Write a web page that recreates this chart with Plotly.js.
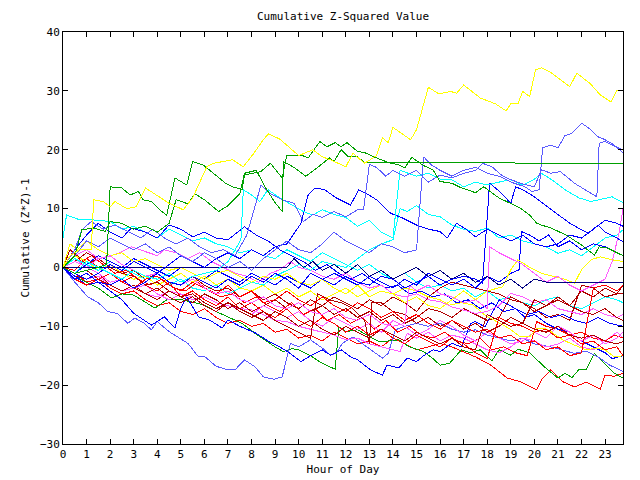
<!DOCTYPE html>
<html><head><meta charset="utf-8">
<script src="https://cdn.plot.ly/plotly-3.0.1.min.js"></script>
<style>html,body{margin:0;padding:0;background:#fff} path.js-line{shape-rendering:crispEdges}</style>
</head><body><div id="chart" style="width:640px;height:480px"></div>
<script>
const hourTicks = [0,1,2,3,4,5,6,7,8,9,10,11,12,13,14,15,16,17,18,19,20,21,22,23];
const HALF = [0,0.5,1,1.5,2,2.5,3,3.5,4,4.5,5,5.5,6,6.5,7,7.5,8,8.5,9,9.5,10,10.5,11,11.5,12,12.5,13,13.5,14,14.5,15,15.5,16,16.5,17,17.5,18,18.5,19,19.5,20,20.5,21,21.5,22,22.5,23,23.5,23.76];

const yelTopH = [0,0.3,0.7,1.2,1.3,1.7,2.0,2.2,2.7,3.1,3.5,3.85,4.5,5.1,5.5,6.1,6.4,6.8,7.2,7.65,8.1,8.5,8.72,9.2,9.5,10.0,10.6,11.0,11.4,12.0,12.3,12.8,13.3,13.55,13.8,14.0,14.75,15.0,15.5,15.95,16.45,16.7,17.0,17.45,17.7,18.35,18.8,19.0,19.3,19.5,19.8,20.05,20.3,20.7,21.5,21.8,22.35,22.8,23.25,23.5,23.76];
const yelTopV = [0,2,3,3,11.5,11.2,10.3,11.2,10,10.3,13.5,12.6,10.9,9.8,11.8,17.1,17.7,18,18.3,17.1,19.4,21.7,22.7,21.8,20.8,19.0,20,18.8,18.2,17.1,19.4,17.7,19,22,21.2,23.8,21.7,23.4,30.6,29.5,29.9,29.6,31,29.5,28.8,27.8,26.6,27.8,27.8,29.9,29.0,33.6,33.9,33.1,30.7,33.0,31.3,29.3,28.1,30.1,30];

const grn1H = [0,0.5,1.0,1.5,1.85,2.0,2.5,2.85,3.2,3.4,3.75,4.1,4.4,4.75,5.25,5.5,5.95,6.9,7.2,7.6,7.7,8.4,8.8,9.3,9.5,10.1,10.4,10.9,11.2,11.55,11.8,12.05,12.5,12.8,13.3,13.9,14.2,14.5,14.8,15.3,15.7,16.0,16.5,16.8,17.5,17.85,18.5,19.1,19.4,19.8,20.1,20.3,20.7,21.35,22.0,22.55,22.75,23.1,23.7,23.76];
const grn1V = [0,-1,-0.5,0,0.5,13.7,13.5,12.3,12.9,11.5,11.2,9.8,8.9,15.2,14.0,18.0,17.4,14.3,13.7,13.2,15.7,16.3,17.7,15.2,19.1,19.1,18.6,21.4,20.5,21.2,20.5,21.2,19.7,19.5,18.6,17.7,17.5,16.9,18.7,17.3,16.6,14.6,14.3,13.7,12.7,13.7,11.8,10.6,10.1,8.9,7.5,7.2,6.7,5.5,3.8,2.1,3.5,3.3,2.1,2.0];

const grn2H = [0,0.5,0.8,1.3,1.8,2.0,2.5,3.0,3.5,4.0,4.5,4.8,5.3,5.6,6.0,6.6,7.0,7.5,7.7,8.2,8.6,9.0,9.3,9.35,9.8,10.3,10.78,11.3,11.5,11.8,12.1,12.5,12.8,23.76];
const grn2V = [0,2,6.4,6.7,6.1,7.8,7.5,6.5,7.0,6.0,7.5,11.5,10.8,12.5,11.5,9.5,10.5,12.5,16,16.5,13.5,11,9.5,18,17,15.5,16.9,18.6,18.0,20,18.8,18.8,17.8,17.7];

const lb1H = [0,0.5,0.8,1.2,1.7,2.2,2.8,3.3,3.8,4.3,4.8,5.3,5.8,6.3,6.8,7.3,7.8,8.4,8.8,9.3,9.8,10.2,10.6,11.0,11.5,12.0,12.5,12.75,13.0,13.3,13.7,14.0,14.5,15.0,15.5,16.0,16.5,17.0,17.5,17.8,18.2,18.6,19.0,19.5,20.0,20.3,20.7,21.1,21.7,22.25,22.65,22.75,23.0,23.3,23.76];
const lb1V = [0,3,6.4,7.8,6.5,7.2,6,5,6.5,5,4,5,3.5,2.5,3,2,5.5,14,12.5,11.5,10.9,7.8,9,8.5,9.5,8.6,9.8,9.8,17.5,17,15.5,16.5,15.5,16.5,14.5,15.7,15.2,16,16.5,17.7,17.1,15.7,14.9,14.2,13.7,16.6,16,16.3,14.3,12.9,12,21.1,21.4,20.8,20.0];

const lb3H = [0,0.5,1.0,1.5,2.0,2.5,3.0,3.5,4.0,4.5,5.0,5.5,6.0,6.5,7.0,7.5,8.0,8.5,9.0,9.5,10.0,10.5,11.0,11.5,12.0,12.5,13.0,13.5,14.0,14.5,15.0,15.3,15.6,16.0,16.5,17.0,17.5,18.0,18.5,19.0,19.6,19.9,20.2,20.35,20.7,21.0,21.3,21.6,22.0,22.3,22.7,23.0,23.3,23.76];
const lb3V = [0,2,4.5,3.5,5,4,3,4,2.5,3.5,2,1,2.5,1.5,0,1,-0.5,1.5,3,4.5,3,2.5,4,6,4.5,3.5,2.5,4,3.5,2.5,3,18.8,17.5,16.5,15.5,16.5,17,16,15.5,14.5,13.7,12.9,13.2,20.3,20.8,20.3,22.4,22.8,24.5,23.7,22.2,21.7,21.0,19.5];

const cyn1H = [0,0.15,0.7,1.2,2,2.5,3,3.5,4,4.5,5,5.5,6,6.5,7,7.5,8,8.5,9,9.5,10,10.5,11,11.5,12,12.5,13,13.5,14,14.5,15,15.5,16,16.5,17,17.5,18,18.5,19,19.5,20,20.5,21,21.5,22,22.5,23,23.5,23.76];
const cyn1V = [5,8.9,8.1,8.1,7.8,6.5,7,6,5,6.5,5.5,4.5,5,4,3.5,2.5,3,2,1.5,3,2,1,2.5,1.5,0.5,-0.5,0.5,-1,-2,-1,-2.5,-3.5,-3,-4,-3.5,-5,-4,-5.5,-5,-6,-6.5,-5.5,-5,-6.5,-7,-6,-5,-5.5,-6];

const cyn2H = [0,0.5,1,1.5,2,2.5,3,3.5,4,4.5,5,5.5,6,6.5,7,7.55,7.65,8.0,8.35,8.7,9.2,9.7,10.2,10.6,11.0,11.5,12.0,12.5,13.0,13.5,14.0,14.3,14.7,15.0,15.5,16.0,16.5,17.0,17.5,18.0,18.5,19.0,19.5,20.0,20.3,20.7,21.3,21.9,22.4,23.0,23.3,23.76];
const cyn2V = [0,-1,1,0,-1,-2,-0.5,-1.5,-2,-1,-2.5,-1.5,-1,-0.5,1,4.7,13.2,12.3,11.2,13.2,11.8,10.6,9.5,8.9,9.8,9,8.5,7,8,6,5,16.5,16,15.5,16,15,14.9,13.7,14.5,14,14.5,14.9,14,15,16,15,13.2,11.8,11.2,11.8,12,11];

const cyn3H = [0,0.5,1,1.5,2,2.5,3,3.5,4,4.5,5,5.5,6,6.5,7,7.5,8,8.5,9,9.5,10,10.5,11,11.5,12,12.5,13,13.5,14,14.3,14.6,15,15.5,16,16.5,17,17.5,18,18.5,19,19.5,20,20.5,21,21.5,22,22.5,23,23.5,23.76];
const cyn3V = [0,1.5,0.5,-0.5,1,0,-1,-2,-1.5,-3,-2,-3.5,-4,-3,-4.5,-3.5,-2.5,-3,-1.5,-0.5,0.5,-0.5,1,0.5,0,1.5,3,4,4.7,10,9.5,10.5,9,8.6,7.2,6.5,6.1,6.7,5,5.5,4.5,4,3.5,2.4,3,2,3.5,5,5.5,6.4];

const mag1H = [0,0.5,1,1.5,2,2.5,3,3.5,4,4.5,5,5.5,6,6.5,7,7.5,8,8.5,9,9.5,10,10.5,11,11.5,12,12.5,13,13.5,14,14.5,14.7,15,15.5,16,16.5,17,17.5,18,18.1,18.5,19,19.5,20,20.5,21,21.5,22,22.5,23,23.3,23.6,23.76];
const mag1V = [0,2,3,1.5,2,0.5,-0.5,-1.5,-1,-2.5,-3,-2,-3.5,-4.5,-4,-5.5,-6,-5,-6.5,-7,-6,-7.5,-8,-7,-8.5,-9,-8,-9.5,-10,-9.5,-3,-4,-3,-4.5,-5,-6,-5.5,-7,3.5,2.5,1.5,0.5,-1,-2.5,-1.5,-3,-4,-3,-2,1,6,10];

const mag2H = [0,0.5,1,1.5,2,2.5,3,3.5,4,4.5,5,5.5,6,6.5,7,7.5,8,8.5,9,9.5,10,10.5,11,11.5,12,12.5,13,13.5,14,14.3,14.6,15,15.5,16,16.5,17,17.5,18,18.5,19,19.5,20,20.5,21,21.5,22,22.5,23,23.5,23.76];
const mag2V = [0,-1,-2,-1.5,-3,-4,-3.5,-4.5,-5,-4,-4.5,-5.5,-5,-6,-6.5,-7,-7.2,-8,-9,-9.2,-10,-10.5,-10.9,-11.5,-12.3,-12,-13,-13.5,-14,-14.3,-11.2,-12,-11,-12.5,-11.5,-12,-13,-14,-14.5,-13.5,-12,-12.5,-13.5,-13,-12,-13.5,-14,-12.5,-11,-12];

const mag3H = [0,0.5,1,1.5,1.9,2.4,2.9,3.5,4.0,4.3,4.8,5.3,5.8,6.3,6.8,7.3,7.8,8.3,8.8,9.2,9.65,10,10.5,11,11.5,12,12.5,13,13.5,14,14.5,15,15.5,16,16.5,17,17.5,18,18.5,19,19.5,20,20.5,21,21.5,22,22.5,23,23.5,23.76];
const mag3V = [0,1,0,1.5,1.8,2.5,3.5,2.7,2,3,2.5,1.5,2.5,1,0,-1,-1.5,-2.5,-1,-0.4,1,0,-0.5,-1.5,-2,-1,-2.5,-3.5,-3,-4.5,-5,-4.5,-5.5,-5.8,-6.7,-7.3,-7.8,-7.5,-6.5,-4.4,-5,-6,-5.5,-7,-7.5,-8,-7,-8,-8.5,-8];

const mag4V = [0,1.5,0,-1,-2.5,-2,-3.5,-3,-4.5,-5.5,-4.5,-5,-6.5,-7.5,-6,-7,-8,-6.5,-7.5,-8.5,-7.5,-9,-10,-8.5,-9.5,-10.5,-9.5,-11,-9,-10,-11.5,-10.5,-9,-10,-11.5,-12.5,-11,-12,-13,-12.5,-11,-12,-10,-11,-12.5,-11.5,-13,-12,-11];

const navH = [0,0.3,9.5,9.8,10.2,10.6,11.0,11.5,12.0,12.5,13.0,13.5,14.0,14.5,15.0,15.5,16.0,16.5,17.0,17.5,18.0,18.5,19.0,19.5,20.0,20.6,23.76];
const navV = [0,0,0,1.5,0,1,-0.5,0.5,-1,0.5,-1.5,-0.5,-2,-1,0,-1.5,-0.5,-2,-1,-2.5,-1.5,-3,-2,-3.5,-2,-2.6,-2.6];

const blu1H = [0,0.5,1,1.5,2,2.5,3,3.5,4,4.5,5,5.5,6,6.5,7,7.5,8,8.5,9,9.5,10.1,10.4,10.7,11.1,11.6,12.2,12.55,12.9,13.3,13.9,14.4,15.0,15.5,16.0,16.3,16.7,17.1,17.5,18,18.5,19,19.5,20,20.5,21,21.5,22,22.5,23,23.5,23.76];
const blu1V = [0,-1,-2,-1,0.5,-0.5,1,0,-1,0.5,2,1,0,1.5,2.5,1.5,3,2,3.5,4,7.5,12.3,13.5,13.2,11.8,10.6,13.2,12.5,11.5,9.2,8.4,7.2,6.5,6.1,5,7.5,6.5,5.2,6.5,5.5,4.5,5.5,4,3.5,4,5.5,5,6.5,8,7.5,7];

const blu2H = [0,0.5,1,1.5,2,2.5,3,3.5,4,4.5,5,5.5,6,6.5,7,7.5,8,8.5,9,9.5,10,10.5,11,11.5,12,12.5,13,13.5,14,14.5,15,15.5,16,16.5,17,17.5,17.8,18.1,18.5,19.0,19.2,19.5,20.0,20.5,21.0,21.5,22.0,22.3,22.7,23.0,23.5,23.76];
const blu2V = [0,-2,-1,-2.5,-3,-2,-3.5,-2.5,-1,-2.5,-3,-1.5,-2.5,-3.5,-2,-3,-1.5,-2.5,-1,-2,-3.5,-1,-2,-3,-1.5,-2.5,-3,-1.5,-2,-3.5,-2.5,-1.5,-3,-2,-1.5,-2,-2.7,14.3,13,10.9,13.7,13.2,12,10.5,8.9,7.5,6.4,5.8,7.2,6,5,4.4];

const blu3H = [0,0.5,1,1.5,2,2.5,2.9,3.5,4,4.5,5,5.5,6,6.5,7,7.7,8.2,8.7,9.2,9.7,10.2,10.7,11.2,11.7,12.2,12.7,13.2,13.7,14.2,14.7,15.2,15.7,16.2,16.7,17.2,17.7,18.2,18.7,19.2,19.7,20.2,20.7,21.2,21.7,22.2,22.7,23.2,23.76];
const blu3V = [0,3,5.5,7.5,6,5,6.7,6,5,7.2,6.5,5.2,6,5,4.7,6.9,5.5,4.5,3,2,1,-0.5,0.5,-1,-2,-1,-2.5,-3.5,-3,-4.5,-4,-5,-4.5,-6,-5.5,-7,-6,-7.5,-7,-8,-7.5,-8.5,-8,-9,-9.5,-8.5,-9.5,-10];

const blu4H = [0,0.5,1,1.5,2,2.5,3,3.75,4.3,4.75,5.0,5.25,5.75,6.25,6.75,7.0,7.5,8.2,8.7,9.2,9.6,10.1,10.5,11.0,11.35,11.8,12.2,12.5,13.05,13.55,13.75,14.25,14.6,15.0,15.3,15.7,16.0,16.5,16.9,17.3,17.5,17.9,18.5,18.8,19.2,19.6,20.0,20.5,21.0,21.5,22.0,22.5,23.0,23.3,23.76];
const blu4V = [0,-1.5,-3,-2.5,-4,-5.5,-7.8,-9.8,-8.4,-10.3,-6.9,-5,-8.4,-9,-10.3,-8.9,-10,-11.2,-12.5,-13.5,-14.5,-16,-15,-14,-14.9,-14,-15.2,-15.7,-17.4,-18.3,-16.6,-17.1,-15.4,-16,-15,-14,-14.3,-12.9,-13.5,-9.5,-9.2,-10.1,-5.5,-6.1,-7,-8.5,-8,-9.5,-10.5,-11,-12.5,-13.5,-14.5,-15.5,-15];

const blu6H = [0,0.5,1,1.5,2,2.5,3,3.5,4,4.5,5,5.5,6,6.5,7,7.5,8,8.5,9,9.5,10,10.5,11,11.5,12,12.5,13,13.5,14,14.5,15,15.5,16,16.5,17,17.5,18,18.5,19,19.35,19.45,19.8,20.2,20.6,21.0,21.5,22.0,22.5,23.0,23.5,23.76];
const blu6V = [0,-1,0.5,2,1,0,1.5,0.5,-0.5,-1.5,0,-1,-2,-0.5,-1.5,-2.5,-1,-2,-3,-1.5,-2.5,-3.5,-2,-1,-2,-3,-1.5,-2.5,-3.5,-2,-3,-1,-2,-3,-2,-3.5,-1.5,-2.5,-1,-0.4,6.1,5.5,4.5,5.5,3.5,4.5,3,4,3.5,2.5,2];

const lbLowH = [0,0.5,1.05,1.5,1.9,2.3,2.75,3.05,3.45,3.75,4.0,4.5,5.3,5.75,6.0,6.5,7.0,7.3,7.7,8.15,8.5,8.95,9.3,9.45,9.65,10.0,10.5,11.0,11.35,11.6,11.85,12.3,12.8,13.55,13.8,14.1,14.5,15.0,15.5,16.0,16.5,17.0,17.5,18.0,18.5,19.0,19.5,20.0,20.7,21.2,21.7,22.2,22.7,23.2,23.76];
const lbLowV = [0,-2.5,-5,-6,-7.5,-7.8,-9.5,-8.6,-9.5,-10.6,-9.2,-10.9,-12.9,-15.2,-15.1,-16.8,-17.4,-17.4,-15.7,-16.9,-18.6,-19,-18.6,-16.3,-12.9,-13.5,-12.3,-13.7,-14.9,-14.6,-12.9,-11.8,-13.2,-15.4,-14.6,-10.6,-10,-9.5,-10,-9.5,-10.5,-11,-10.6,-11.5,-12,-12.5,-12,-13,-13.5,-14,-14.6,-14.2,-15.2,-16.6,-17.7];

const grnLowH = [0,0.5,1,1.5,2.05,2.5,3.0,3.9,4.4,5.05,5.6,6.0,6.5,7.0,7.3,7.6,8.15,8.6,9.0,9.35,9.7,10.0,10.5,11.0,11.3,11.55,11.7,12.0,12.5,12.9,13.4,13.8,14.25,14.7,15.3,15.7,16.0,16.4,16.9,17.3,17.7,18.2,18.5,19.0,19.3,19.8,20.4,21.0,21.3,21.6,21.9,22.2,22.55,22.9,23.4,23.76];
const grnLowV = [0,-1.5,-2.5,-3.5,-5.2,-4.5,-4.7,-6.9,-5.5,-5.5,-6,-6.4,-7.5,-8.4,-8.9,-9.5,-11.2,-12.5,-13.5,-14.3,-13.8,-14,-15,-16.3,-16.8,-17.3,-10.1,-10.9,-10.6,-11.5,-12.6,-12.5,-12.3,-13.5,-14.3,-15.5,-16.6,-16.3,-14,-14.5,-14,-15.9,-14,-14.9,-13.9,-14.5,-16.8,-18.8,-18,-18.7,-17.3,-17.3,-14.6,-16,-18,-18.8];

const red1H = [0,0.5,1,1.5,2,2.5,3,3.5,4,4.5,5,5.5,6,6.5,7,7.5,8,8.5,9,9.5,10,10.5,11,11.5,12,12.5,13,13.5,14,14.5,15,15.5,16,16.5,17.0,17.5,18.15,18.85,19.4,20.1,20.3,20.7,21.2,21.7,22.2,22.8,23.0,23.4,23.76];
const red1V = [0,-1,-2.5,-2,-3.5,-4.5,-4,-5.5,-6.5,-6,-7.5,-8,-7,-8.5,-9.5,-9,-10,-9.5,-11,-10.5,-12,-11.5,-12.5,-11,-12,-13,-12.5,-13.5,-12,-13,-14,-13.5,-12.9,-13.5,-14.3,-15.2,-16.6,-18.8,-19.4,-20.8,-19.1,-17.4,-19.4,-20.3,-19.5,-20.7,-18.3,-18.5,-18];

const red2H = [0,0.4,0.8,1.2,1.7,2.2,2.7,3.2,3.7,4.2,4.7,5.2,5.7,6.2,6.7,7.2,7.7,8.2,8.7,9.2,9.7,10.2,10.7,11.2,11.7,12.2,12.7,13.2,13.7,14.2,14.7,15.2,15.7,16.2,16.7,17.2,17.7,18.2,18.7,19.2,19.7,20.1,20.5,21.0,21.5,22.0,22.5,23.0,23.4,23.76];
const red2V = [0,2.5,1,2,0.5,-1,-0.5,-2,-3,-2,-3.5,-4,-2.5,-4,-5,-4.5,-6,-5,-6.5,-7.5,-6,-8,-7,-9,-8,-9.5,-8.5,-10.5,-9,-11,-10,-11.5,-12,-11,-12.5,-13,-12,-14,-13.5,-14.5,-15,-9.2,-10,-10.5,-11.5,-11,-12,-12.5,-11.5,-12];

const red3V = [0,-0.5,1.5,0,-1,-2.5,-1.5,-3,-4,-2.5,-5,-4,-5.5,-6.5,-5,-7,-6,-7.5,-8.5,-7,-9,-10,-8.5,-9.5,-11,-10,-11.5,-10.5,-12,-13,-11.5,-12.5,-13.5,-12,-13,-14.5,-15.5,-8.5,-9.5,-10,-11,-10.5,-12,-11.5,-13,-12.5,-14,-13.5,-15];
const red4V = [0,-2,-3,-2,-1,-2.5,-3.5,-2,-1.5,-3,-4,-2.5,-3.5,-4.5,-3,-5,-4,-6,-5.5,-4,-5.5,-6.5,-5,-6.5,-7.5,-6,-7,-8.5,-7.5,-9,-8,-9.5,-10.5,-9,-10,-11,-10.5,-12,-11.5,-13,-12.5,-14,-13.5,-15,-14.5,-3.5,-3,-4,-3];

const dred1H = [0,0.3,0.6,1,1.5,2,2.5,3,3.5,4,4.5,5,5.5,6,6.5,7,7.5,8,8.5,9,9.5,10,10.5,11,11.5,12,12.5,13,13.5,14,14.5,15,15.5,16,16.5,17,17.5,18,18.5,19,19.5,20,20.5,21,21.5,22,22.5,23,23.5,23.76];
const dred1V = [0,3,2,0.5,1.5,0,-1,-0.5,-2,-1,-2.5,-3,-1.5,-3,-4,-3.5,-5,-4,-5.5,-4.5,-6,-7,-5.5,-6.5,-8,-7,-8.5,-7.5,-9,-8,-9.5,-8.5,-7,-7.5,-8.5,-7,-8,-9,-8.5,-5,-6,-7.5,-6.5,-5.5,-6.5,-4,-5,-3.5,-4.5,-4.4];

const dred2H = [0,0.5,1,1.5,2,2.5,3,3.5,4,4.5,5,5.5,6,6.5,7,7.5,8,8.5,9,9.5,10,10.5,10.8,11.3,11.8,12.3,12.8,13.0,13.1,13.5,14,14.5,15,15.5,16,16.5,17,17.5,18,18.5,19,19.5,20,20.5,21,21.5,22,22.5,23,23.5,23.76];
const dred2V = [0,1,2.5,1.5,0,-1,-1.5,-3,-2.5,-4,-5,-4.5,-6,-7,-6,-7.5,-8.5,-7.5,-9,-10,-11,-12,-4.5,-5.5,-6,-7,-9,-13,-6,-6,-7.5,-8,-9.5,-8.5,-10,-9,-10.5,-9.5,-11,-10,-8.5,-9.5,-10.5,-11,-10,-11.5,-12,-11.5,-12.5,-13,-12.6];

const dred3V = [0,-1,-0.5,-2,-3,-2,-3.5,-4.5,-3.5,-5,-6,-5,-6.5,-7.5,-6,-7,-8,-9,-7.5,-8.5,-10,-9,-10.5,-11.5,-10,-11,-12,-10.5,-11.5,-12.5,-11,-12,-13,-12,-13.5,-14,-8,-9,-10,-9.5,-5.5,-6.5,-5,-6.5,-7.5,-8,-7,-8.5,-9];
const dred4V = [0,-1.5,-2,-1,-3,-4,-3,-4.5,-5.5,-4,-5,-6,-4.5,-5.5,-7,-6,-7.5,-6.5,-5.5,-7,-6,-7.5,-6.5,-5,-6,-7,-5.5,-6.5,-5,-6,-7.5,-5,-3.5,-2.5,-3,-3.5,-4,-4.5,-5.5,-6,-7,-8.5,-8,-9,-3,-3.5,-5,-4.5,-3];

const yel2H = [0,0.3,0.6,1,1.5,2,2.5,3,3.5,4,4.5,5,5.5,6,6.5,7,7.5,8,8.5,9,9.5,10,10.5,11,11.5,12,12.5,13,13.5,14,14.5,15,15.5,16,16.5,17,17.5,18,18.65,19,19.3,19.8,20.3,20.8,21.3,21.7,22,22.4,22.8,23.3,23.76];
const yel2V = [0,4,3,4.5,3,2,2.5,1,1.5,0.5,-0.5,0,-1,-2,-1,-0.5,-1.5,-2.5,-1.5,-2,-1,-2.5,-3,-2,-3.5,-4.5,-3,-5,-4,-4.5,-6,-5,-6.5,-7,-5.5,-4,-5.5,-4,-3.3,-0.4,1.3,0,-1,-1.5,-2,-2.7,-0.4,1.3,1.8,1.3,1];

const yel3H = [0,0.5,1,1.5,2,2.5,3,3.5,4,4.5,5,5.5,6,6.5,7,7.5,8,8.5,9,9.5,10,10.5,11,11.5,12,12.5,13,13.5,14,14.5,15,15.5,16,16.4,16.9,17.4,17.9,18.4,18.9,19.4,19.8,20.1,20.4,20.7,21.2,21.7,22.2,22.6,23.0,23.4,23.76];
const yel3V = [0,2,1,-0.5,0.5,-1,-2,-1.5,-3,-2,-1,-2.5,-1.5,-3,-2,-3.5,-4,-3,-4.5,-3.5,-5,-4,-5.5,-4.5,-3.5,-5,-4,-3,-4.5,-3.5,-4,-5,-5.5,-6.4,-6,-6.4,-8.1,-9.2,-10.3,-11.8,-11.8,-10.3,-10.3,-10.9,-12.3,-13.2,-14,-13.7,-14,-15.2,-15];

const C = {yel:'#ffff00', grn:'#00a000', lbl:'#5a5aff', cyn:'#00ffff', mag:'#ff5aff', nav:'#000080', blu:'#0000ff', red:'#ff0000', drd:'#b00000'};

const series = [
  [red1H, red1V, C.red], [grnLowH, grnLowV, C.grn], [lbLowH, lbLowV, C.lbl],
  [mag2H, mag2V, C.mag], [cyn1H, cyn1V, C.cyn], [dred1H, dred1V, C.drd],
  [red2H, red2V, C.red], [HALF, dred4V, C.drd], [blu4H, blu4V, C.blu],
  [HALF, mag4V, C.mag], [yel3H, yel3V, C.yel], [HALF, red3V, C.red],
  [dred2H, dred2V, C.drd], [blu3H, blu3V, C.blu], [mag3H, mag3V, C.mag],
  [cyn3H, cyn3V, C.cyn], [HALF, red4V, C.red], [HALF, dred3V, C.drd],
  [blu6H, blu6V, C.blu], [yel2H, yel2V, C.yel], [mag1H, mag1V, C.mag],
  [navH, navV, C.nav], [blu2H, blu2V, C.blu], [blu1H, blu1V, C.blu],
  [cyn2H, cyn2V, C.cyn], [lb3H, lb3V, C.lbl], [lb1H, lb1V, C.lbl],
  [grn2H, grn2V, C.grn], [grn1H, grn1V, C.grn], [yelTopH, yelTopV, C.yel]
];

const traces = series.map(s => ({
  x: s[0], y: s[1], type: 'scatter', mode: 'lines',
  line: {color: s[2], width: 1}, hoverinfo: 'skip'
}));

const fontFam = 'DejaVu Sans Mono, monospace';
const layout = {
  width: 640, height: 480,
  margin: {l: 63, r: 17, t: 32, b: 36},
  paper_bgcolor: '#ffffff', plot_bgcolor: '#ffffff',
  showlegend: false,
  font: {family: fontFam, size: 11, color: '#000'},
  title: {text: 'Cumulative Z-Squared Value', font: {family: fontFam, size: 11, color: '#000'},
          xref: 'paper', x: 0.5, xanchor: 'center', yref: 'container', y: 0.967, yanchor: 'middle'},
  xaxis: {
    range: [0, 23.76], tickvals: hourTicks, ticktext: hourTicks.map(String),
    ticks: 'inside', ticklen: 5, tickwidth: 1, tickcolor: '#000',
    showline: true, linecolor: '#000', linewidth: 1, mirror: 'ticks',
    showgrid: false, zeroline: false, automargin: false,
    tickfont: {family: fontFam, size: 11, color: '#000'},
    title: {text: 'Hour of Day', font: {family: fontFam, size: 11, color: '#000'}, standoff: 5}
  },
  yaxis: {
    range: [-30, 40], tickvals: [-30,-20,-10,0,10,20,30,40],
    ticks: 'inside', ticklen: 5, tickwidth: 1, tickcolor: '#000',
    showline: true, linecolor: '#000', linewidth: 1, mirror: 'ticks',
    showgrid: false, zeroline: false, automargin: false,
    tickfont: {family: fontFam, size: 11, color: '#000'},
    title: {text: 'Cumulative (Z*Z)-1', font: {family: fontFam, size: 11, color: '#000'}, standoff: 8}
  }
};

Plotly.newPlot('chart', traces, layout, {staticPlot: true, displayModeBar: false});
</script>
</body></html>
